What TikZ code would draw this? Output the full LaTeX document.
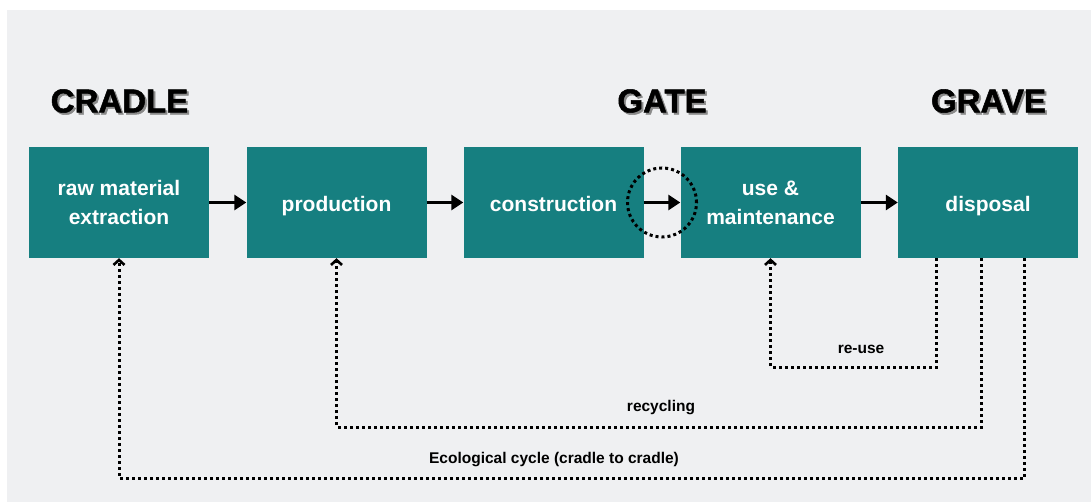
\documentclass[tikz,border=0pt]{standalone}
\usepackage{fontspec}
\setmainfont{Liberation Sans}
\newfontfamily\headfont{Liberation Sans}[BoldFeatures={FakeBold=1.6}]
\usetikzlibrary{arrows.meta,calc}
\definecolor{bgray}{HTML}{EFF0F2}
\definecolor{boxteal}{HTML}{167F80}
\definecolor{shadowgray}{HTML}{8A8A8A}
\begin{document}
\begin{tikzpicture}[x=1pt,y=-1pt,
  stagebox/.style={fill=boxteal, minimum width=180pt, minimum height=111pt, inner sep=0pt,
    text=white, font=\fontsize{21}{29}\selectfont\bfseries, align=center},
  oneline/.style={text height=18pt, text depth=0pt},
  heading/.style={font=\headfont\fontsize{33}{36}\selectfont\bfseries, text=black, inner sep=0pt},
  headshadow/.style={font=\headfont\fontsize{33}{36}\selectfont\bfseries, text=shadowgray, inner sep=0pt},
  flow/.style={line width=3.4pt, -{Triangle[length=12pt,width=15pt]}},
  dotline/.style={line width=3pt, dash pattern=on 3pt off 3pt},
  loop/.style={dotline, -{Straight Barb[length=5pt,width=11pt,line width=2.6pt]}},
  lbl/.style={font=\fontsize{15.5}{18}\selectfont\bfseries, text=black, inner sep=0pt}]
\useasboundingbox (0,0) rectangle (1091,502);
\fill[white] (0,0) rectangle (1091,502);
\fill[bgray] (7,10) rectangle (1091,502);

% headings with shadow
\node[headshadow] (hcs) at (121.5,103) {CRADLE};
\node[heading] (hc) at (119.5,101) {CRADLE};
\node[headshadow] (hgs) at (664,103) {GATE};
\node[heading] (hg) at (662,101) {GATE};
\node[headshadow] (hrs) at (990.5,103) {GRAVE};
\node[heading] (hr) at (988.5,101) {GRAVE};

% stage boxes
\node[stagebox] (b1) at (119,202.5) {raw material\\extraction};
\node[stagebox, oneline] (b2) at (336.5,202.5) {production};
\node[stagebox, oneline] (b3) at (553.5,202.5) {construction};
\node[stagebox] (b4) at (770.5,202.5) {use \&\\maintenance};
\node[stagebox, oneline] (b5) at (988,202.5) {disposal};

% main flow
\draw[flow] (b1.east) -- (b2.west);
\draw[flow] (b2.east) -- (b3.west);
\draw[flow] (b3.east) -- (b4.west);
\draw[flow] (b4.east) -- (b5.west);

% gate circle
\node[circle, draw, dotline, minimum size=69pt, inner sep=0pt] (gc) at ($(b3.east)!0.5!(b4.west)$) {};

% loops
\coordinate (s1) at ($(b5.south west)+(39,0)$);
\coordinate (s2) at ($(b5.south west)+(84,0)$);
\coordinate (s3) at ($(b5.south west)+(127,0)$);
\draw[loop] (s1) -- (s1 |- 0,367) -| (b4.south);
\draw[loop] (s2) -- (s2 |- 0,427) -| (b2.south);
\draw[loop] (s3) -- (s3 |- 0,478) -| (b1.south);

% labels
\node[lbl] (lr) at (861,349) {re-use};
\node[lbl] (lc) at (661,408) {recycling};
\node[lbl] (le) at (554,460) {Ecological cycle (cradle to cradle)};
\end{tikzpicture}
\end{document}
